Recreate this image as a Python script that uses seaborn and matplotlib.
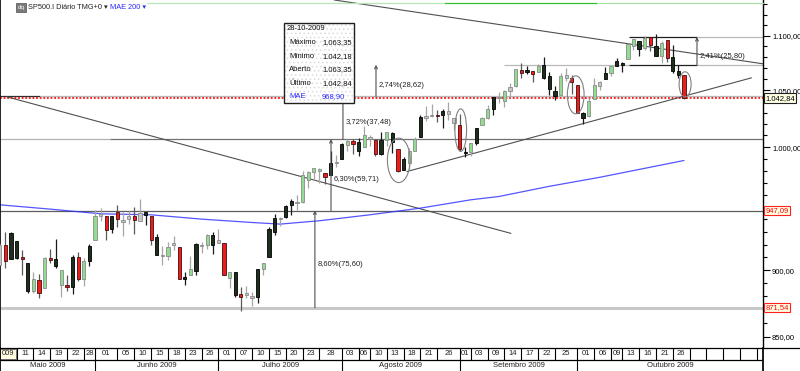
import seaborn as sns
import matplotlib.pyplot as plt
from matplotlib import font_manager
from matplotlib.patches import Ellipse, Rectangle
from matplotlib.lines import Line2D
from matplotlib.transforms import blended_transform_factory
from matplotlib.ticker import FixedLocator, FuncFormatter, NullFormatter

# ---- sessions (trading days, 2009) ----
may = [6, 7, 8, 11, 12, 13, 14, 15, 18, 19, 20, 21, 22, 26, 27, 28, 29]
jun = [1, 2, 3, 4, 5, 8, 9, 10, 11, 12, 15, 16, 17, 18, 19, 22, 23, 24, 25, 26, 29, 30]
jul = [1, 2, 6, 7, 8, 9, 10, 13, 14, 15, 16, 17, 20, 21, 22, 23, 24, 27, 28, 29, 30, 31]
aug = [3, 4, 5, 6, 7, 10, 11, 12, 13, 14, 17, 18, 19, 20, 21, 24, 25, 26, 27, 28, 31]
sep = [1, 2, 3, 4, 8, 9, 10, 11, 14, 15, 16, 17, 18, 21, 22, 23, 24, 25, 28, 29, 30]
octo = [1, 2, 5, 6, 7, 8, 9, 12, 13, 14, 15, 16, 19, 20, 21, 22, 23, 26, 27, 28, 29, 30]
nov = [2, 3, 4, 5, 6, 9, 10, 11, 12, 13, 16]

# ---- SP500 daily candles (06/05 .. 28/10) ----
opens = [903.95, 919.58, 909.03, 922.99, 910.52, 905.40, 884.24, 892.76, 886.07, 909.67, 908.62, 900.42, 888.68, 887.00, 909.95, 892.96, 907.02,
         923.26, 942.87, 942.51, 932.49, 945.67, 938.12, 940.35, 942.73, 939.04, 943.44, 942.45, 925.60, 911.89, 910.86, 919.96, 918.13, 893.46, 896.31, 899.45, 918.84, 919.86, 927.15,
         920.82, 921.24, 894.27, 898.60, 881.90, 881.28, 880.03, 879.57, 900.77, 910.15, 930.17, 940.56, 942.07, 951.97, 953.40, 954.07, 972.16, 978.63, 981.48, 977.66, 976.01, 986.80,
         990.22, 1001.41, 1005.41, 1004.06, 999.83, 1008.89, 1005.77, 994.00, 1005.86, 1012.23, 998.18, 980.62, 986.88, 996.41, 1009.06, 1026.59, 1026.63, 1027.35, 1027.81, 1031.62, 1025.21,
         1019.52, 996.07, 996.12, 1003.84, 1018.67, 1025.36, 1032.99, 1043.92, 1040.15, 1049.03, 1053.99, 1067.87, 1066.60, 1067.14, 1066.35, 1072.69, 1062.56, 1049.48, 1045.38, 1063.69, 1061.02,
         1054.91, 1029.71, 1026.87, 1042.02, 1053.65, 1060.03, 1065.28, 1071.63, 1074.96, 1078.68, 1090.36, 1094.67, 1088.22, 1098.64, 1090.36, 1080.96, 1095.62, 1080.36, 1067.54, 1063.35]
highs = [920.28, 929.58, 930.17, 922.99, 915.57, 905.40, 898.36, 896.97, 910.00, 916.39, 924.60, 900.42, 896.65, 911.76, 913.84, 909.45, 920.02,
         947.77, 949.38, 942.51, 942.47, 951.69, 946.33, 946.92, 949.77, 956.23, 946.30, 942.45, 928.00, 918.44, 921.93, 927.09, 918.13, 898.69, 910.85, 921.42, 922.00, 927.99, 930.01,
         931.92, 921.24, 898.72, 898.60, 886.80, 887.86, 883.57, 901.05, 905.84, 933.95, 943.96, 941.89, 951.62, 956.53, 959.83, 979.42, 979.79, 982.49, 982.35, 977.76, 996.68, 993.18,
         1003.61, 1007.12, 1006.64, 1008.00, 1018.00, 1010.12, 1005.77, 1012.78, 1013.14, 1012.60, 998.18, 991.20, 999.61, 1008.92, 1027.59, 1035.82, 1037.75, 1032.47, 1033.33, 1039.47, 1025.21,
         1028.45, 1000.34, 1003.43, 1016.48, 1026.07, 1036.34, 1044.14, 1048.18, 1049.74, 1056.04, 1068.76, 1074.77, 1071.52, 1067.28, 1073.81, 1080.15, 1066.29, 1053.47, 1065.13, 1069.62, 1063.40,
         1054.91, 1030.60, 1042.58, 1060.55, 1058.02, 1070.67, 1071.51, 1079.46, 1075.30, 1093.17, 1096.56, 1094.67, 1100.17, 1098.64, 1101.36, 1095.21, 1095.83, 1091.75, 1072.48, 1063.35]
lows = [903.95, 901.36, 909.03, 908.68, 896.46, 882.80, 882.52, 878.94, 886.07, 905.22, 901.37, 879.61, 883.75, 881.46, 891.87, 887.60, 903.56,
        923.26, 938.46, 923.85, 929.32, 934.13, 926.44, 936.15, 927.97, 939.04, 935.66, 919.65, 911.60, 903.78, 907.94, 915.80, 893.04, 888.86, 896.31, 896.27, 913.03, 916.18, 912.86,
        920.82, 896.42, 886.36, 879.93, 869.32, 878.45, 872.81, 875.32, 896.50, 910.15, 927.45, 934.65, 940.99, 943.22, 947.75, 953.27, 965.95, 972.29, 969.35, 968.65, 976.01, 982.85,
        990.22, 996.68, 994.31, 992.49, 999.83, 1000.99, 992.40, 993.36, 1000.82, 994.60, 978.51, 980.62, 980.62, 996.39, 1009.06, 1022.48, 1026.21, 1021.57, 1016.20, 1023.13, 1014.62,
        996.28, 991.97, 992.25, 1001.65, 1018.67, 1023.97, 1028.04, 1038.40, 1035.00, 1043.42, 1052.87, 1061.20, 1064.27, 1057.46, 1066.35, 1060.39, 1045.85, 1041.17, 1045.38, 1057.83, 1046.47,
        1029.45, 1019.95, 1025.92, 1042.02, 1050.10, 1060.03, 1063.00, 1071.63, 1066.71, 1078.68, 1086.41, 1081.53, 1086.48, 1086.16, 1080.77, 1074.31, 1075.49, 1065.23, 1060.62, 1042.18]
closes = [919.53, 907.39, 929.23, 909.24, 908.35, 883.92, 893.07, 882.88, 909.71, 908.13, 903.47, 888.33, 887.00, 910.33, 893.06, 906.83, 919.14,
          942.87, 944.74, 931.76, 942.46, 940.09, 939.14, 942.43, 939.15, 944.89, 946.21, 923.72, 911.97, 910.71, 918.37, 921.23, 893.04, 895.10, 900.94, 920.26, 918.90, 927.23, 919.32,
          923.33, 896.42, 898.72, 881.03, 879.56, 882.68, 879.13, 901.05, 905.84, 932.68, 940.74, 940.38, 951.13, 954.58, 954.07, 976.29, 979.26, 982.18, 979.62, 975.15, 986.75, 987.48,
          1002.63, 1005.65, 1002.72, 997.08, 1010.48, 1007.10, 994.35, 1005.81, 1012.73, 1004.09, 979.73, 989.67, 996.46, 1007.37, 1026.13, 1025.57, 1028.00, 1028.12, 1030.98, 1028.93, 1020.62,
          998.04, 994.75, 1003.24, 1016.40, 1025.39, 1033.37, 1044.14, 1042.73, 1049.34, 1052.63, 1068.76, 1065.49, 1068.30, 1064.66, 1071.66, 1060.87, 1050.78, 1044.38, 1062.98, 1060.61, 1057.08,
          1029.85, 1025.21, 1040.46, 1054.72, 1057.58, 1065.48, 1071.49, 1076.19, 1073.19, 1092.02, 1096.56, 1087.68, 1097.91, 1091.06, 1081.40, 1092.91, 1079.60, 1066.95, 1063.41, 1042.84]
# candle colour as seen on the chart: g green, k black, r red, w grey
kinds = ("wrkkrkgrgrkgrkrgk"
         "gwrkrwwrwkrkwgwrkgkggk"
         "wrgkrwwkgkkgkkgggggrkg"
         "kgrkgwrkgkrkggkwwrkww"
         "rkgkggkggwgrkrgkkkgwr"
         "rkggwkgkkggkgrkgrkkr")

# MAE 200 (blue line), read at a few sessions
ma_dates = ["06/05", "19/05", "02/06", "15/06", "26/06", "10/07", "17/07", "28/07",
            "10/08", "21/08", "03/09", "11/09", "24/09", "07/10", "28/10"]
ma_vals = [951.8, 948.3, 944.5, 943.7, 940.2, 937.5, 936.2, 938.9,
           943.7, 949.1, 955.9, 958.6, 967.0, 974.5, 988.6]

# support / resistance levels and measured moves
levels = [871.54, 947.09, 1006.80, 1044.28, 1072.90, 1098.70]
last_close = 1042.84
moves = ["8,60%(75,60)", "6,30%(59,71)", "3,72%(37,48)", "2,74%(28,62)", "2,41%(25,80)"]

# date strip
cell_dates = ["06/05", "11/05", "14/05", "19/05", "22/05", "28/05", "01/06", "05/06", "10/06", "15/06",
              "18/06", "23/06", "26/06", "01/07", "07/07", "10/07", "15/07", "20/07", "23/07", "28/07",
              "03/08", "06/08", "10/08", "13/08", "18/08", "21/08", "26/08", "01/09", "03/09", "09/09",
              "14/09", "17/09", "22/09", "25/09", "01/10", "06/10", "09/10", "13/10", "16/10", "21/10",
              "26/10", "29/10", "03/11", "06/11", "11/11", "16/11"]
cell_texts = ["009"] + [d[:2] for d in cell_dates[1:41]] + [""] * 5
month_starts = ["06/05", "01/06", "01/07", "03/08", "01/09", "01/10"]
month_names = ["Maio 2009", "Junho 2009", "Julho 2009", "Agosto 2009", "Setembro 2009", "Outubro 2009"]

sessions = ([f"{d:02d}/05" for d in may] + [f"{d:02d}/06" for d in jun] + [f"{d:02d}/07" for d in jul]
            + [f"{d:02d}/08" for d in aug] + [f"{d:02d}/09" for d in sep] + [f"{d:02d}/10" for d in octo]
            + [f"{d:02d}/11" for d in nov])
pos = {d: i for i, d in enumerate(sessions)}


def br(v):
    s = f"{v:,.2f}"
    return s.replace(",", "X").replace(".", ",").replace("X", ".")


sns.set_theme(style="white")
names = {f.name for f in font_manager.fontManager.ttflist}
font = next((n for n in ["Liberation Sans Narrow", "DejaVu Sans Condensed", "Liberation Sans"] if n in names), "DejaVu Sans")
plt.rcParams["font.family"] = [font, "DejaVu Sans"]
plt.rcParams["font.size"] = 5.5
plt.rcParams["hatch.linewidth"] = 0.6
FS = 5.5

W, H = 800, 371
fig = plt.figure(figsize=(W / 100, H / 100), dpi=100)
fig.patch.set_facecolor("white")
ax = fig.add_axes([0, 1 - 348 / H, 763 / W, 348 / H])
axd = fig.add_axes([0, 0, 763 / W, 23 / H], sharex=ax)

XMIN, XMAX = 0.055, 136.09
ax.set_yscale("log")
ax.set_xlim(XMIN, XMAX)
ax.set_ylim(842.0, 1134.2)

# ---- level lines ----
ax.hlines(levels[0], XMIN, XMAX, color="#c8c8c8", lw=2.2, zorder=1)
ax.hlines(levels[1], XMIN, XMAX, color="#5e5e5e", lw=0.9, zorder=1)
ax.hlines(levels[2], XMIN, 19.6, color="#b4b4b4", lw=0.9, zorder=1)
ax.hlines(levels[2], 19.6, XMAX, color="#707070", lw=0.9, zorder=1)
ax.hlines(levels[3], XMIN, 7.2, color="#303030", lw=0.9, zorder=1)
ax.hlines(levels[3], 7.2, XMAX, color="#b8b8b8", lw=0.9, zorder=1)
ax.hlines(levels[4], 90.0, 112.2, color="#b8b8b8", lw=0.9, zorder=1)
ax.hlines(levels[4], 112.2, 124.3, color="#202020", lw=0.9, zorder=1)
ax.hlines(levels[4], 124.3, XMAX, color="#b8b8b8", lw=0.9, zorder=1)
ax.hlines(levels[5], 112.2, 124.3, color="#202020", lw=0.9, zorder=1)
ax.hlines(levels[5], 124.3, XMAX, color="#b8b8b8", lw=0.9, zorder=1)
ax.hlines(last_close, XMIN, XMAX, color="#ff1010", lw=1.3, linestyles=(0, (1, 1)), zorder=2)

# ---- trend lines ----
for x0, y0, x1, y1 in [(1.3, 1043.98, 91.15, 928.8), (59.66, 1134.2, 136.09, 1073.9), (72.6, 979.3, 134.04, 1061.1)]:
    ax.plot([x0, x1], [y0, y1], color="#505050", lw=0.8, zorder=2)

# ---- MAE 200 ----
sns.lineplot(x=[pos[d] for d in ma_dates], y=ma_vals, ax=ax, color="#2a2aff", lw=0.9, alpha=0.8, zorder=2)

# ---- candles ----
style = {"g": ("#92dc92", "#8a8a8a", "#a6a6a6"),
         "k": ("#1c2e1c", "#000000", "#1a1a1a"),
         "r": ("#f01c1c", "#401010", "#5a5a5a"),
         "w": ("#c6c6c6", "#8a8a8a", "#a6a6a6")}
xs = list(range(len(closes)))
ax.vlines(xs, lows, highs, colors=[style[k][2] for k in kinds], lw=0.9, zorder=3)
ax.bar(xs, [max(abs(c - o), 0.8) for o, c in zip(opens, closes)],
       bottom=[min(o, c) for o, c in zip(opens, closes)], width=0.58,
       color=[style[k][0] for k in kinds], edgecolor=[style[k][1] for k in kinds],
       linewidth=0.6, zorder=4)

# ---- measured moves ----
for xk, (lo, hi), txt in zip([56.2, 59.07, 61.2, 67.09, 124.32],
                             zip(levels[:-1], levels[1:]), moves):
    ax.annotate("", xy=(xk, hi), xytext=(xk, lo),
                arrowprops=dict(arrowstyle="->,head_length=0.35,head_width=0.18",
                                color="#505050", lw=0.8, shrinkA=0, shrinkB=0), zorder=5)
    ax.annotate(txt, xy=(xk, (lo * hi) ** 0.5), xytext=(3, -5), textcoords="offset pixels",
                ha="left", va="center", fontsize=FS, color="#222222", zorder=6)

# ---- ellipses ----
for xk, lo, hi, w in [(71.15, 970.1, 1007.7, 4.05), (82.2, 996.3, 1033.3, 2.08),
                      (102.7, 1028.9, 1062.9, 2.98), (122.2, 1043.9, 1066.6, 2.14)]:
    ax.add_patch(Ellipse((xk, (lo + hi) / 2), w, hi - lo, fill=False, ec="#808080", lw=0.8, zorder=6))

# ---- axes look ----
for s in ["top", "bottom"]:
    ax.spines[s].set_visible(False)
ax.spines["left"].set_color("black")
ax.spines["right"].set_color("black")
ax.spines["left"].set_linewidth(1.2)
ax.spines["right"].set_linewidth(1.0)
ax.yaxis.tick_right()
ax.yaxis.set_major_locator(FixedLocator([850, 900, 950, 1000, 1050, 1100]))
ax.yaxis.set_major_formatter(FuncFormatter(lambda v, p: "" if v == 950 else br(v)))
ax.yaxis.set_minor_locator(FixedLocator(list(range(850, 1131, 10))))
ax.yaxis.set_minor_formatter(NullFormatter())
ax.tick_params(axis="y", which="major", right=True, left=False, length=5, width=0.8,
               pad=1.5, labelsize=FS, colors="black")
ax.tick_params(axis="y", which="minor", right=True, left=False, length=3, width=0.8, colors="black")
ax.tick_params(axis="x", which="both", bottom=False, labelbottom=False)
ax.grid(False)
ax.set_xlabel("")
ax.set_ylabel("")
if ax.get_legend():
    ax.get_legend().remove()

# right-hand value boxes
tr = blended_transform_factory(ax.transAxes, ax.transData)
ax.text(1.003, last_close, br(last_close), transform=tr, fontsize=FS, va="center", ha="left", color="black",
        bbox=dict(boxstyle="square,pad=0.15", fc="#ffffe4", ec="#202020", lw=0.8), clip_on=False, zorder=10)
for v in levels[:2]:
    ax.text(1.003, v, br(v), transform=tr, fontsize=FS, va="center", ha="left", color="#ff0000",
            bbox=dict(boxstyle="square,pad=0.15", fc="#ffffe4", ec="#ff2020", lw=0.8), clip_on=False, zorder=10)

# ---- date strip ----
axd.set_ylim(0, 23)
axd.set_facecolor("white")
for s in ["top", "bottom"]:
    axd.spines[s].set_visible(False)
axd.spines["left"].set_color("black")
axd.spines["right"].set_color("black")
axd.tick_params(axis="both", which="both", bottom=False, left=False, right=False,
                labelbottom=False, labelleft=False)
axd.grid(False)
axd.hlines(11.5, XMIN, XMAX, color="black", lw=0.9)
edges = [pos[d] for d in cell_dates] + [XMAX]
axd.vlines(edges[1:-1], 11.5, 23, color="black", lw=0.8)
for l, r, t in zip(edges[:-1], edges[1:], cell_texts):
    axd.text((max(l, XMIN) + r) / 2, 17.2, t, ha="center", va="center", fontsize=FS, color="#222222")
axd.add_patch(Rectangle((XMIN, 12), edges[1] - XMIN - 0.1, 10.5, fc="#fffbe0", ec="#606060", lw=0.6, zorder=0))
medges = [pos[d] for d in month_starts] + [XMAX]
axd.vlines(medges[1:-1], 0, 11.5, color="black", lw=0.8)
for l, r, t in zip(medges[:-1], medges[1:], month_names):
    axd.text((max(l, XMIN) + r) / 2, 5.6, t, ha="center", va="center", fontsize=FS, color="#222222")


def P(x, y):
    return x / W, 1 - y / H


fig.add_artist(Line2D([0, 1], [1 - 348 / H, 1 - 348 / H], color="black", lw=0.9))
fig.add_artist(Line2D([P(147, 0)[0], P(445, 0)[0]], [P(0, 2.5)[1]] * 2, color="#b8e6b8", lw=0.9))
fig.add_artist(Line2D([P(445, 0)[0], P(597, 0)[0]], [P(0, 2.5)[1]] * 2, color="#30c030", lw=0.9))
fig.add_artist(Line2D([P(597, 0)[0], P(763, 0)[0]], [P(0, 2.5)[1]] * 2, color="#a8e0a8", lw=0.9))

# ---- header ----
fig.add_artist(Rectangle(P(16, 12), 10 / W, 9 / H, fc="#7a7a7a", ec="#505050", lw=0.5))
fig.text(*P(21, 7.5), "dq", color="white", fontsize=4.5, ha="center", va="center")
fig.text(*P(28, 7.5), "SP500.I Diário TMG+0 \u25be", color="#222222", fontsize=5.3, ha="left", va="center")
fig.text(*P(110, 7.5), "MAE 200 \u25be", color="#2a2aff", fontsize=5.3, ha="left", va="center")

# ---- info box (28-10-2009) ----
fig.add_artist(Rectangle(P(284, 103), 70 / W, 80 / H, fc="white", ec="none", zorder=8))
fig.add_artist(Rectangle(P(284, 103), 70 / W, 80 / H, fc="none", ec="#dcdcdc", hatch="....", lw=0, zorder=8))
fig.add_artist(Rectangle(P(284, 103), 70 / W, 80 / H, fc="none", ec="#202020", lw=1.0, zorder=9))
fig.text(*P(287, 28), "28-10-2009", fontsize=FS, ha="left", va="center", color="#111111", zorder=10)
rows = [("Máximo", br(1063.35)), ("Mínimo", br(1042.18)), ("Aberto", br(1063.35)), ("Último", br(1042.84))]
for i, (lab, val) in enumerate(rows):
    yy = 42.5 + i * 13.6
    fig.text(*P(289, yy), lab, fontsize=FS, ha="left", va="center", color="#111111", zorder=10)
    fig.text(*P(322, yy), val, fontsize=FS, ha="left", va="center", color="#111111", zorder=10)
fig.text(*P(289, 97), "MAE", fontsize=FS, ha="left", va="center", color="#2a2aff", zorder=10)
fig.text(*P(322, 97), "968,90", fontsize=FS, ha="left", va="center", color="#2a2aff", zorder=10)

fig.savefig("out.png", dpi=100, facecolor="white")
